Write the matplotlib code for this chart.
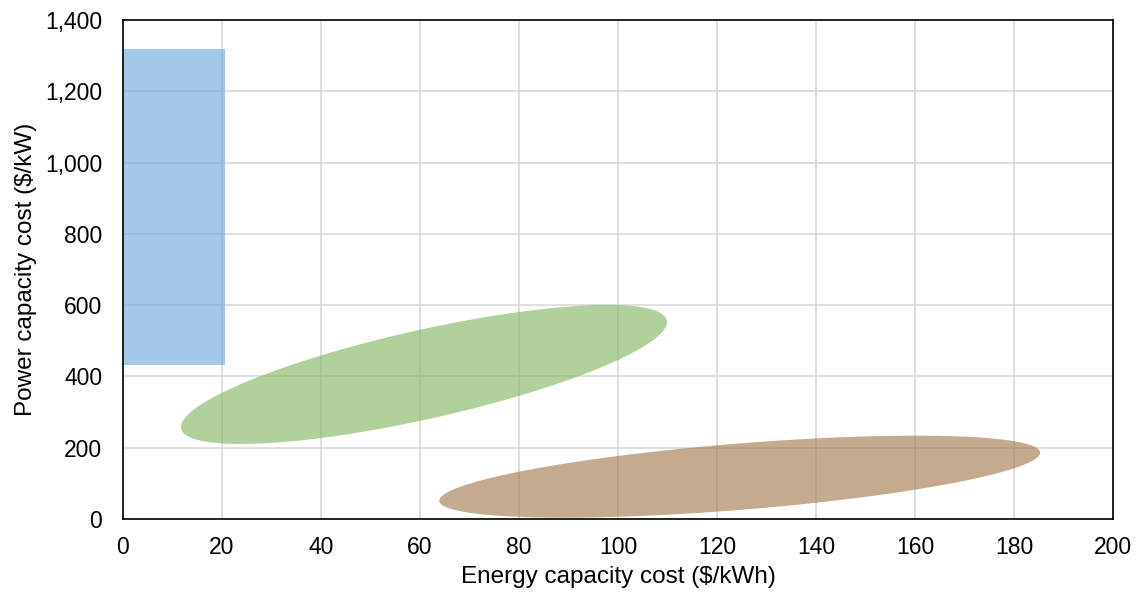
import numpy as np
import matplotlib.pyplot as plt
from matplotlib.ticker import FuncFormatter, MultipleLocator

plt.rcParams['font.family'] = ['Liberation Sans', 'DejaVu Sans']

# blue region: energy cost range and power cost range
blue_x = [0, 20.6]
blue_y = [432, 1320]

# ellipses: center (x, y), rightmost point offset (dx, dy), vertical conjugate half-height
green_center = [60.8, 405.4]
green_right = [49.1, 147.3]
green_vert = 127.8

brown_center = [124.6, 118.7]
brown_right = [60.7, 67.3]
brown_vert = 93.3


def ellipse_points(center, right, vert, n=300):
    t = np.linspace(0, 2 * np.pi, n)
    x = center[0] + right[0] * np.cos(t)
    y = center[1] + right[1] * np.cos(t) + vert * np.sin(t)
    return x, y


fig = plt.figure(figsize=(11.45, 5.99), dpi=100)
ax = fig.add_axes([0.1074, 0.1336, 0.8646, 0.833])

ax.fill_between(blue_x, blue_y[0], blue_y[1], color='#6aa2d9', alpha=0.6, lw=0, zorder=3)

gx, gy = ellipse_points(green_center, green_right, green_vert)
ax.fill(gx, gy, color='#80b258', alpha=0.6, lw=0, zorder=3)

bx, by = ellipse_points(brown_center, brown_right, brown_vert)
ax.fill(bx, by, color='#9e7346', alpha=0.6, lw=0, zorder=3)

ax.set_xlim(0, 200)
ax.set_ylim(0, 1400)
ax.xaxis.set_major_locator(MultipleLocator(20))
ax.yaxis.set_major_locator(MultipleLocator(200))
ax.yaxis.set_major_formatter(FuncFormatter(lambda v, p: f'{int(v):,}'))
ax.grid(True, color='#d9d9d9', lw=1.2, zorder=0)
ax.set_axisbelow(True)
ax.tick_params(length=0, labelsize=16.5)
ax.tick_params(axis='x', pad=12)
ax.tick_params(axis='y', pad=15)
for s in ax.spines.values():
    s.set_color('black')
    s.set_linewidth(1.2)
    s.set_zorder(5)

ax.set_xlabel('Energy capacity cost ($/kWh)', fontsize=17.5, labelpad=5)
ax.set_ylabel('Power capacity cost ($/kW)', fontsize=17.5, labelpad=6)

fig.savefig('out.png', dpi=100)
